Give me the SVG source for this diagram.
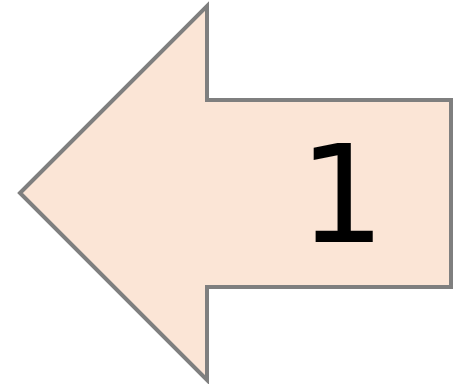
<svg xmlns="http://www.w3.org/2000/svg" width="454" height="384" viewBox="0 0 454 384">
<style>
.arrow{fill:#FBE5D6;stroke:#7F7F7F;stroke-width:4;stroke-linejoin:miter}
.lbl{font-family:"DejaVu Sans",sans-serif;font-size:136px;fill:#000;text-anchor:middle}
</style>
<rect width="454" height="384" fill="#fff"/>
<g id="arrow1">
<polygon class="arrow" points="20,193 207,6 207,100 451,100 451,287 207,287 207,380"/>
<text class="lbl" x="342" y="242">1</text>
</g>
</svg>
